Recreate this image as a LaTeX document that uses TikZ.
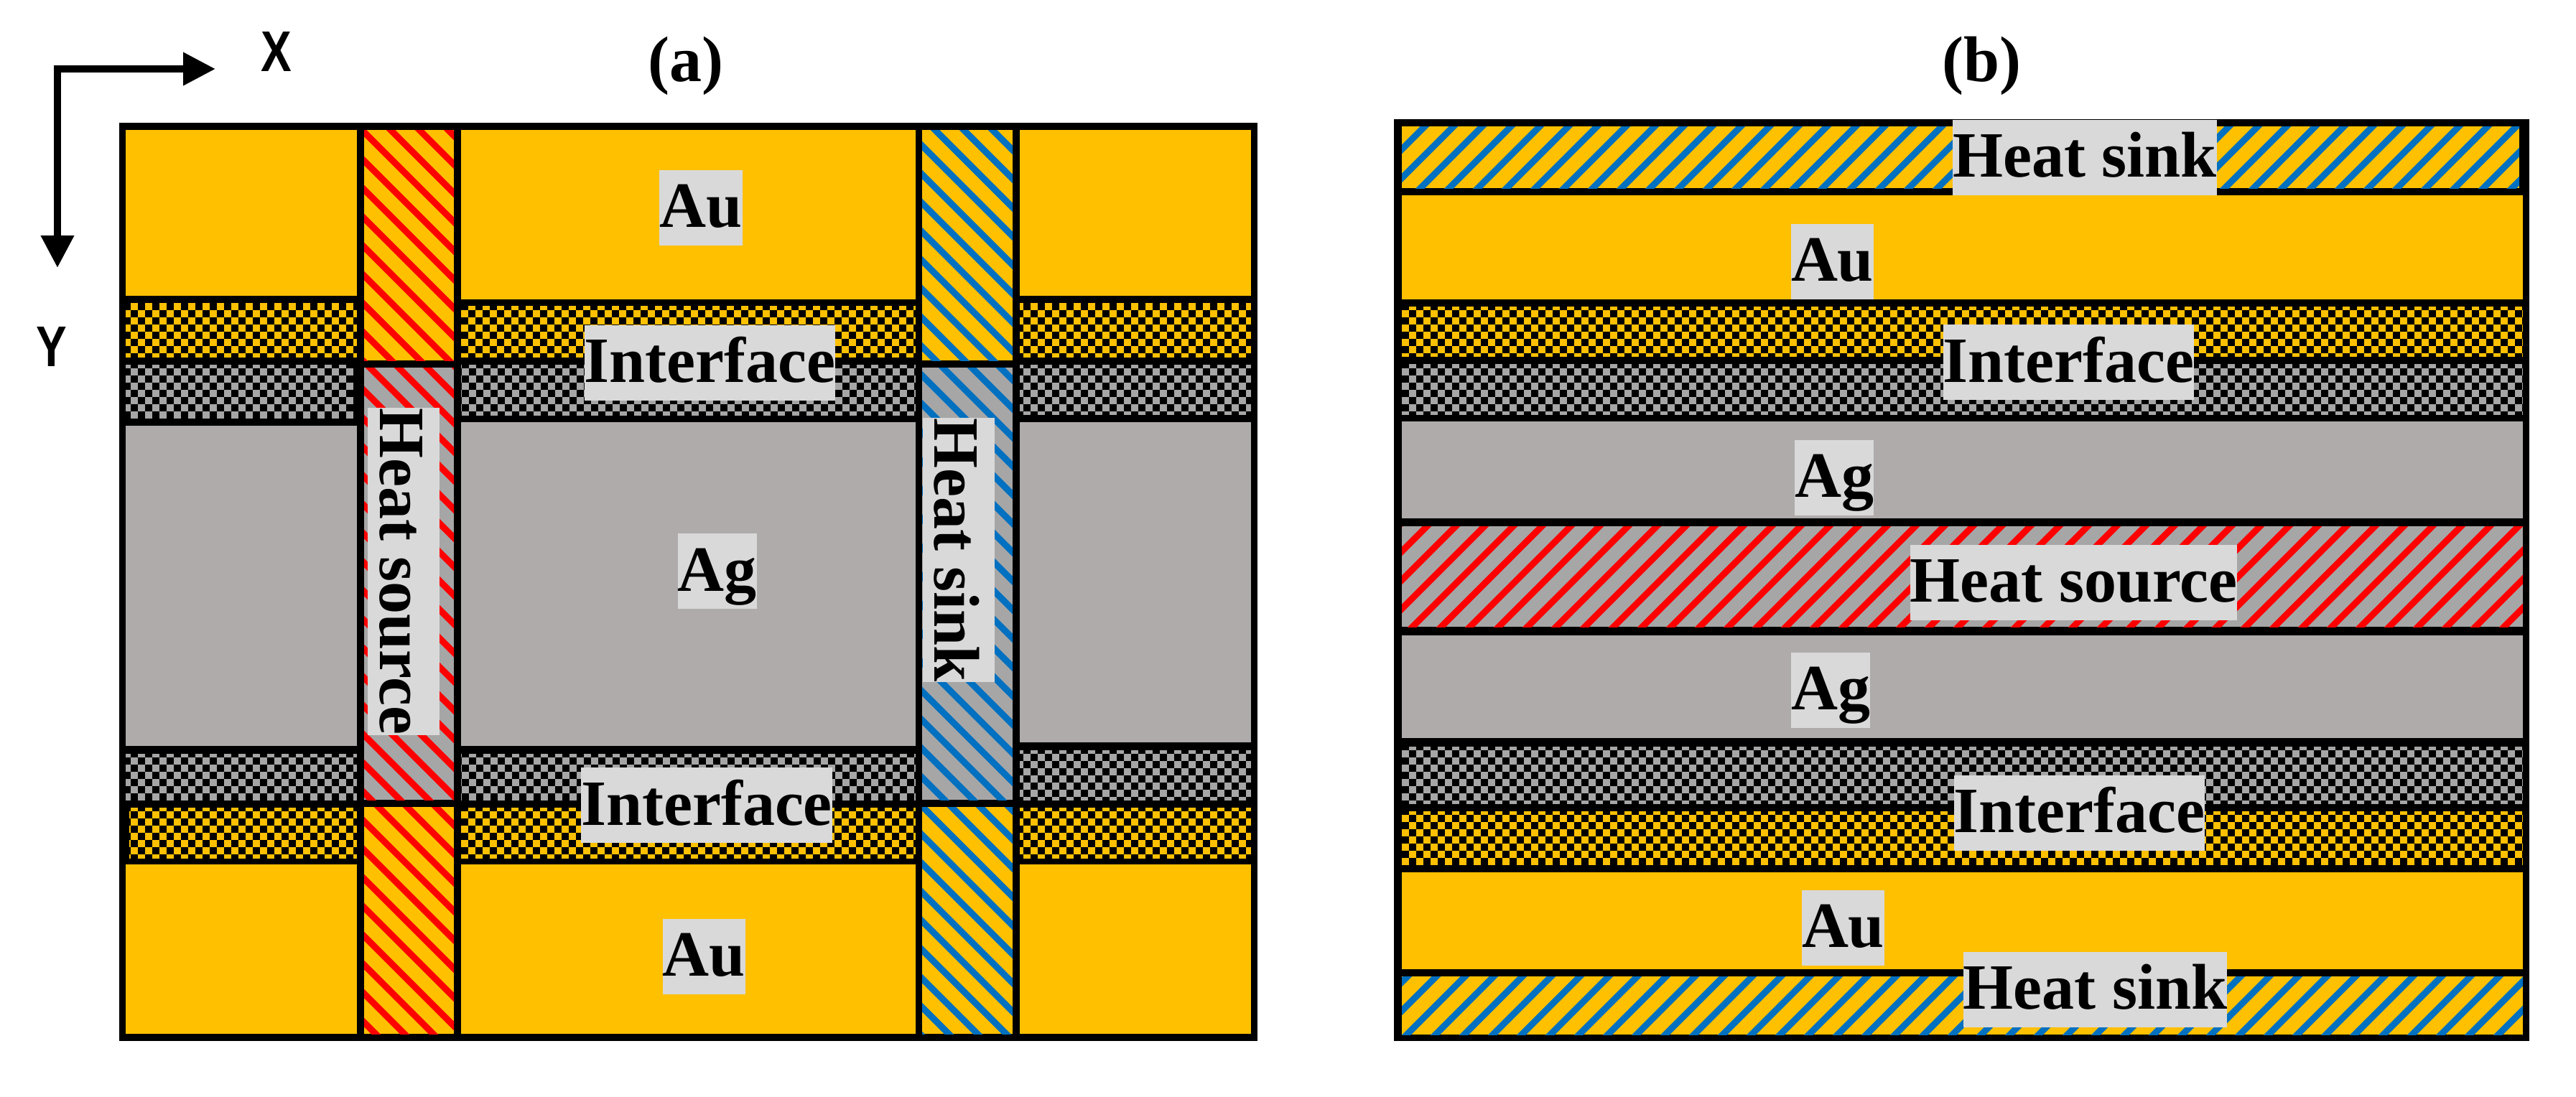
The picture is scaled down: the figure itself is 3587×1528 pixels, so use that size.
\documentclass[tikz,border=0pt]{standalone}
\usepackage{fontspec}
\setmainfont{Liberation Serif}
\newfontfamily\axisfont{Liberation Sans}
\usetikzlibrary{arrows.meta}
\definecolor{gold}{HTML}{FFC000}
\definecolor{silver}{HTML}{AFABAB}
\definecolor{hgrey}{HTML}{A6A6A6}
\definecolor{labbg}{HTML}{D9D9D9}
\definecolor{hred}{HTML}{FF0000}
\definecolor{hblue}{HTML}{0070C0}
\tikzset{
  lab/.style={fill=labbg,inner sep=0pt,text=black,text height=80pt,text depth=25pt,
    font=\fontsize{90}{100}\selectfont\bfseries,anchor=center},
  vlab/.style={fill=labbg,inner sep=0pt,text=black,text height=83pt,text depth=17pt,
    font=\fontsize{90}{100}\selectfont\bfseries,anchor=center,rotate=-90},
  ttl/.style={inner sep=0pt,anchor=base,font=\fontsize{90}{100}\selectfont\bfseries},
  axl/.style={inner sep=0pt,font=\fontsize{80}{90}\selectfont\axisfont\bfseries},
  stripe/.style={line width=9pt},
}
\newcommand\cellbox[5]{\fill[#5] (#1,#2) rectangle (#3,#4);}
\newcommand\chk[7]{%
  \begin{scope}
    \clip (#1,#2) rectangle (#3,#4);
    \pgfmathtruncatemacro\nrw{(#4-#7)/10}
    \foreach \rw in {0,...,\nrw}{
      \pgfmathsetmacro\yy{#7+10*\rw+5}
      \pgfmathsetmacro\xx{#6+10*mod(\rw,2)}
      \draw[#5,line width=10pt,dash pattern=on 10pt off 10pt] (\xx,\yy) -- (#3,\yy);
    }
  \end{scope}}
\newcommand\hatchA[7]{%
  \fill[#5] (#1,#2) rectangle (#3,#4);
  \begin{scope}
    \clip (#1,#2) rectangle (#3,#4);
    \pgfmathtruncatemacro\ka{floor((#1-#4-#7)/40)-1}
    \pgfmathtruncatemacro\kb{ceil((#3-#2-#7)/40)+1}
    \foreach \kk in {\ka,...,\kb}{
      \pgfmathsetmacro\hh{#7+40*\kk}
      \draw[#6,stripe] ({\hh+#2-20},#2-20) -- ({\hh+#4+20},#4+20);
    }
  \end{scope}}
\newcommand\hatchB[7]{%
  \fill[#5] (#1,#2) rectangle (#3,#4);
  \begin{scope}
    \clip (#1,#2) rectangle (#3,#4);
    \pgfmathtruncatemacro\ka{floor((#1+#2-#7)/40)-1}
    \pgfmathtruncatemacro\kb{ceil((#3+#4-#7)/40)+1}
    \foreach \kk in {\ka,...,\kb}{
      \pgfmathsetmacro\hh{#7+40*\kk}
      \draw[#6,stripe] ({\hh-#2+20},#2-20) -- ({\hh-#4-20},#4+20);
    }
  \end{scope}}
\begin{document}
\begin{tikzpicture}[x=1pt,y=-1pt]
\useasboundingbox (0,0) rectangle (3587,1528);
\fill[white] (0,0) rectangle (3587,1528);

% ---------- panel (a)
\fill[black] (166,171) rectangle (1751,1450);
% left
\cellbox{175}{181}{497}{412}{gold}
\chk{175}{422}{497}{497}{gold}{172}{412}
\chk{175}{508}{492}{582}{hgrey}{162}{493}
\cellbox{175}{593}{497}{1039}{silver}
\chk{175}{1050}{497}{1114}{hgrey}{162}{1035}
\chk{180}{1125}{497}{1195}{gold}{172}{1110}
\cellbox{175}{1204}{497}{1440}{gold}
% middle
\cellbox{642}{181}{1275}{417}{gold}
\chk{642}{426}{1275}{497}{gold}{622}{412}
\chk{642}{508}{1275}{578}{hgrey}{623}{493}
\cellbox{642}{588}{1275}{1039}{silver}
\chk{642}{1050}{1275}{1114}{hgrey}{623}{1035}
\chk{642}{1125}{1275}{1195}{gold}{622}{1110}
\cellbox{642}{1204}{1275}{1440}{gold}
% right
\cellbox{1420}{181}{1742}{412}{gold}
\chk{1420}{422}{1742}{497}{gold}{1405}{412}
\chk{1420}{508}{1742}{577}{hgrey}{1405}{493}
\cellbox{1420}{588}{1742}{1034}{silver}
\chk{1420}{1045}{1742}{1114}{hgrey}{1405}{1030}
\chk{1420}{1125}{1742}{1195}{gold}{1405}{1110}
\cellbox{1420}{1204}{1742}{1440}{gold}
% columns
\hatchA{507}{181}{632}{502}{gold}{hred}{3}
\hatchA{507}{512}{632}{1114}{hgrey}{hred}{3}
\hatchA{507}{1124}{632}{1440}{gold}{hred}{3}
\hatchA{1284}{181}{1410}{502}{gold}{hblue}{1}
\hatchA{1284}{512}{1410}{1114}{hgrey}{hblue}{1}
\hatchA{1284}{1124}{1410}{1440}{gold}{hblue}{1}

% ---------- panel (b)
\fill[black] (1941,166) rectangle (3522,1450);
\hatchB{1952}{176}{3508}{262}{gold}{hblue}{0}
\cellbox{1952}{272}{3513}{417}{gold}
\chk{1952}{427}{3513}{496}{gold}{1932}{412}
\chk{1952}{507}{3513}{577}{hgrey}{1932}{493}
\cellbox{1952}{587}{3513}{722}{silver}
\hatchB{1952}{733}{3513}{873}{hgrey}{hred}{0}
\cellbox{1952}{885}{3513}{1028}{silver}
\chk{1952}{1040}{3513}{1119}{hgrey}{1932}{1025}
\chk{1952}{1130}{3513}{1204}{gold}{1932}{1115}
\cellbox{1952}{1215}{3513}{1350}{gold}
\hatchB{1952}{1360}{3513}{1441}{gold}{hblue}{0}

% ---------- labels (a)
\node[lab] (auA1) at (976,289) {Au};
\node[lab] (ifA1) at (988.5,505) {Interface};
\node[lab] (agA) at (998.5,795.5) {Ag};
\node[lab] (ifA2) at (984,1121.5) {Interface};
\node[lab] (auA2) at (980.5,1332) {Au};
\node[vlab] (hsA) at (562,796) {Heat source};
\node[vlab] (skA) at (1334.5,766) {Heat sink};

% ---------- labels (b)
\node[lab] (skB1) at (2903,219) {Heat sink};
\node[lab] (auB1) at (2551.5,364) {Au};
\node[lab] (ifB1) at (2880.5,504.5) {Interface};
\node[lab] (agB1) at (2554,665) {Ag};
\node[lab] (hsB) at (2887.5,811) {Heat source};
\node[lab] (agB2) at (2549,961) {Ag};
\node[lab] (ifB2) at (2895.5,1132) {Interface};
\node[lab] (auB2) at (2566.5,1292) {Au};
\node[lab] (skB2) at (2917.5,1378) {Heat sink};

% ---------- titles
\node[ttl] (ta) at (955,113) {(a)};
\node[ttl] (tb) at (2759,113) {(b)};

% ---------- axes
\coordinate (axo) at (80,96);
\coordinate (axx) at (300,96);
\coordinate (axy) at (80,373);
\draw[black,line width=10pt,miter limit=10,
  {Triangle[length=45pt,width=44pt]}-{Triangle[length=45pt,width=44pt]}]
  (axx) -- (axo) -- (axy);
\node[axl] (xlab) at (384.5,72) {\scalebox{0.8}[1]{X}};
\node[axl] (ylab) at (72,483) {\scalebox{0.8}[1]{Y}};
\end{tikzpicture}
\end{document}
